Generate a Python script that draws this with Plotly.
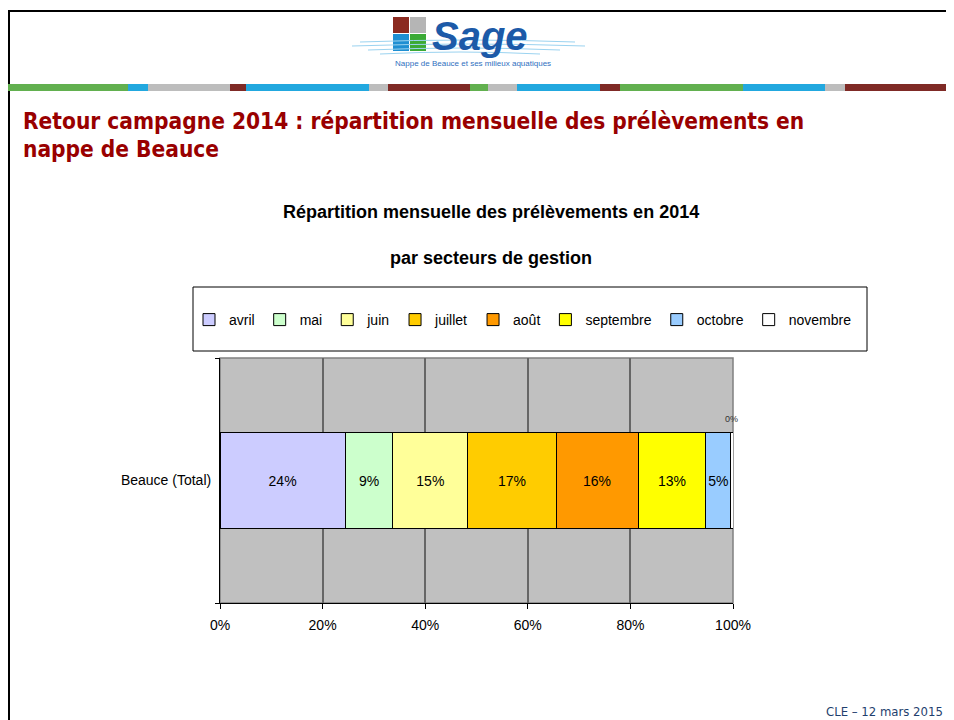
import plotly.graph_objects as go

# ---- data ----
category = ["Beauce (Total)"]
months = ["avril", "mai", "juin", "juillet", "août", "septembre", "octobre", "novembre"]
values = [24.4, 9.3, 14.6, 17.2, 16.0, 13.2, 4.9, 0.4]
colors = ["#CCCCFF", "#CCFFCC", "#FFFF99", "#FFCC00", "#FF9900", "#FFFF00", "#99CCFF", "#FFFFFF"]
x_ticks = [0, 20, 40, 60, 80, 100]
x_tick_labels = ["0%", "20%", "40%", "60%", "80%", "100%"]

slide_title_1 = "Retour campagne 2014 : répartition mensuelle des prélèvements en"
slide_title_2 = "nappe de Beauce"
chart_title_1 = "Répartition mensuelle des prélèvements en 2014"
chart_title_2 = "par secteurs de gestion"
footer = "CLE – 12 mars 2015"

# ---- page geometry (the page body adds an 8px margin) ----
OFF = 8
FW, FH = 954 - 2 * OFF, 720 - OFF
L, R, T, B = 220, 733, 358, 603          # plot area in page pixels
W, H = R - L, B - T


def px(x):
    return (x - L) / W


def py(y):
    return (B - y) / H


ARIAL = "Liberation Sans, Arial, Helvetica, sans-serif"
NARROW = "Liberation Sans Narrow, Arial Narrow, DejaVu Sans Condensed, sans-serif"

fig = go.Figure()
for m, v, c in zip(months, values, colors):
    last = m == months[-1]
    fig.add_trace(go.Bar(
        orientation="h", y=category, x=[v], name=m,
        marker=dict(color=c, line=dict(color="#000000", width=1)),
        text=[""] if last else [f"{round(v)}%"],
        textposition="inside", insidetextanchor="middle",
        textangle=0, constraintext="none",
        textfont=dict(family=ARIAL, size=14, color="#000000"),
        hoverinfo="x+name",
    ))

shapes = []
annotations = []

# slide borders
shapes.append(dict(type="line", xref="paper", yref="paper", x0=px(8), x1=px(960), y0=py(11), y1=py(11),
                   line=dict(color="#000000", width=2)))
shapes.append(dict(type="line", xref="paper", yref="paper", x0=px(9), x1=px(9), y0=py(10), y1=py(725),
                   line=dict(color="#000000", width=2)))

# coloured stripe
GREEN, BLUE, GRAY, RED = "#62B04F", "#22A8DF", "#BDBDBD", "#7F2A26"
stripe = [(8, 128, GREEN), (128, 148, BLUE), (148, 230, GRAY), (230, 246, RED), (246, 369, BLUE),
          (369, 388, GRAY), (388, 470, RED), (470, 488, GREEN), (488, 517, GRAY), (517, 600, BLUE),
          (600, 620, RED), (620, 743, GREEN), (743, 825, BLUE), (825, 845, GRAY), (845, 960, RED)]
for x0, x1, c in stripe:
    shapes.append(dict(type="rect", xref="paper", yref="paper", x0=px(x0), x1=px(x1), y0=py(91), y1=py(84),
                       fillcolor=c, line=dict(width=0)))

# logo
for x0, x1, y0, y1, c in [(393, 409, 17, 33, "#8B2A20"), (410, 426, 17, 33, "#B5B5B5"),
                          (393, 409, 34, 51, "#1E8FD2"), (410, 426, 34, 51, "#3BAA35")]:
    shapes.append(dict(type="rect", xref="paper", yref="paper", x0=px(x0), x1=px(x1), y0=py(y1), y1=py(y0),
                       fillcolor=c, line=dict(width=0)))
for yy, x0, x1 in [(42, 360, 575), (46, 352, 585), (50, 368, 560), (54, 380, 540)]:
    shapes.append(dict(type="path", xref="paper", yref="paper",
                       path=f"M{px(x0)},{py(yy)} Q{px((x0 + x1) / 2)},{py(yy - 4)} {px(x1)},{py(yy)}",
                       line=dict(color="#9BD3F0", width=1)))
annotations.append(dict(text="<b><i>Sage</i></b>", xref="paper", yref="paper", x=px(430), y=py(36),
                        xanchor="left", yanchor="middle", showarrow=False,
                        font=dict(family=ARIAL, size=40, color="#1C5AA8")))
annotations.append(dict(text="Nappe de Beauce et ses milieux aquatiques", xref="paper", yref="paper",
                        x=px(393), y=py(64), xanchor="left", yanchor="middle", showarrow=False,
                        font=dict(family=ARIAL, size=8, color="#2F6FC0")))

# slide title
for txt, yy in [(slide_title_1, 121), (slide_title_2, 149)]:
    annotations.append(dict(text=f"<b>{txt}</b>", xref="paper", yref="paper", x=px(21), y=py(yy),
                            xanchor="left", yanchor="middle", showarrow=False,
                            font=dict(family=NARROW, size=22.5, color="#990000")))

# chart titles
for txt, yy in [(chart_title_1, 212), (chart_title_2, 258)]:
    annotations.append(dict(text=f"<b>{txt}</b>", xref="paper", yref="paper", x=px(491), y=py(yy),
                            xanchor="center", yanchor="middle", showarrow=False,
                            font=dict(family=ARIAL, size=18, color="#000000")))

# footer
annotations.append(dict(text=footer, xref="paper", yref="paper", x=px(945), y=py(711),
                        xanchor="right", yanchor="middle", showarrow=False,
                        font=dict(family=NARROW, size=13, color="#1F3F6E")))

# legend box
shapes.append(dict(type="rect", xref="paper", yref="paper", x0=px(193), x1=px(867), y0=py(351), y1=py(287),
                   fillcolor="#FFFFFF", line=dict(color="#000000", width=1)))

# plot area border (top / right)
shapes.append(dict(type="rect", xref="x domain", yref="y domain", x0=0, x1=1, y0=0, y1=1,
                   line=dict(color="#808080", width=1.5), layer="below"))

# label for the tiny last segment
total = sum(values)
annotations.append(dict(text=f"{round(values[-1])}%", x=total - values[-1] / 2, y=category[0],
                        xref="x", yref="y", showarrow=False, yshift=62,
                        font=dict(family=ARIAL, size=9, color="#333333")))

fig.update_layout(
    width=FW, height=FH,
    margin=dict(l=L - OFF, r=FW - (R - OFF), t=T - OFF, b=FH - (B - OFF), pad=0),
    paper_bgcolor="#FFFFFF", plot_bgcolor="#C0C0C0",
    barmode="stack", bargap=0.608,
    showlegend=True,
    legend=dict(orientation="h", x=px(189), y=py(320), xanchor="left", yanchor="middle",
                bgcolor="rgba(0,0,0,0)", borderwidth=0, itemwidth=30,
                font=dict(family=ARIAL, size=14, color="#000000"), traceorder="normal"),
    xaxis=dict(range=[0, 100], tickmode="array", tickvals=x_ticks, ticktext=x_tick_labels,
               showgrid=True, gridcolor="#666666",
               gridwidth=1.5, showline=True, linecolor="#000000", linewidth=1, ticks="outside",
               ticklen=5, tickcolor="#000000", zeroline=False, ticklabelstandoff=4,
               tickfont=dict(family=ARIAL, size=14, color="#000000"), fixedrange=True),
    yaxis=dict(type="category", tickson="boundaries", ticks="outside", ticklen=4, tickcolor="#000000",
               showline=True, linecolor="#000000", linewidth=1, showgrid=True, gridcolor="#808080",
               ticklabelstandoff=5, tickfont=dict(family=ARIAL, size=14, color="#000000"), fixedrange=True),
    shapes=shapes, annotations=annotations,
)

fig.write_html("out.html")
